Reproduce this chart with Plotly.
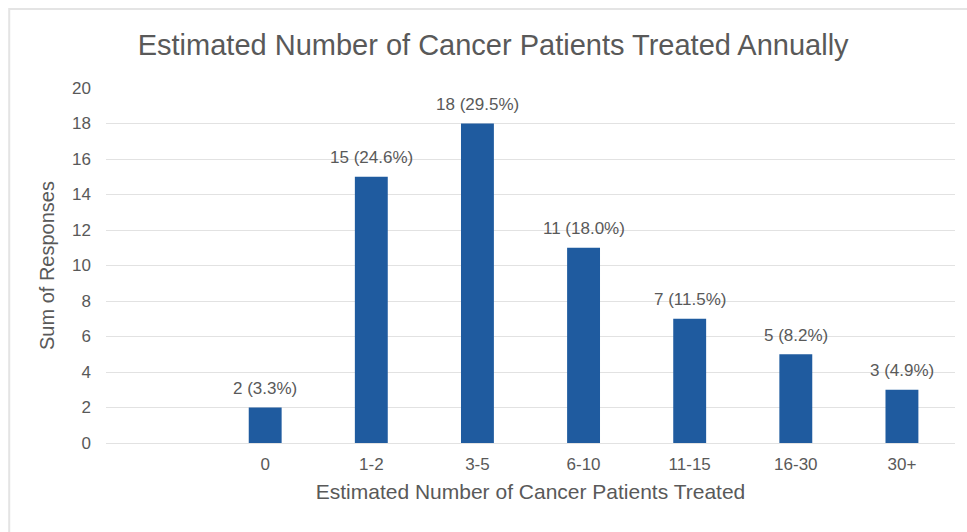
import plotly.graph_objects as go

# Survey responses: estimated number of cancer patients treated per year
categories = ["0", "1-2", "3-5", "6-10", "11-15", "16-30", "30+"]
responses = [2, 15, 18, 11, 7, 5, 3]
y_ticks = [0, 2, 4, 6, 8, 10, 12, 14, 16, 18, 20]

total = sum(responses)
labels = [f"{v} ({v / total * 100:.1f}%)" for v in responses]

GRAY_TEXT = "#595959"
FONT = "Liberation Sans, Arial, sans-serif"

fig = go.Figure(
    go.Bar(
        x=categories,
        y=responses,
        marker=dict(color="#1f5b9f", line=dict(width=0)),
        hoverinfo="skip",
    )
)

# Count and share labels sitting above each bar
for cat, val, lab in zip(categories, responses, labels):
    fig.add_annotation(
        x=cat,
        y=val,
        text=lab,
        showarrow=False,
        yanchor="middle",
        yshift=19,
        font=dict(family=FONT, size=17, color=GRAY_TEXT),
    )

fig.update_layout(
    width=967,
    height=532,
    margin=dict(l=106, r=12, t=88, b=89),
    paper_bgcolor="white",
    plot_bgcolor="white",
    bargap=0.69,
    showlegend=False,
    title=dict(
        text="Estimated Number of Cancer Patients Treated Annually",
        x=0.51,
        xanchor="center",
        y=1 - 45 / 532,
        yanchor="middle",
        font=dict(family=FONT, size=29, color=GRAY_TEXT),
    ),
    xaxis=dict(
        type="category",
        range=[-1.5, 6.5],
        showgrid=False,
        zeroline=False,
        showline=False,
        ticks="",
        tickfont=dict(family=FONT, size=17, color=GRAY_TEXT),
        ticklabelstandoff=9,
        title=dict(
            text="Estimated Number of Cancer Patients Treated",
            font=dict(family=FONT, size=21, color=GRAY_TEXT),
            standoff=11,
        ),
    ),
    yaxis=dict(
        range=[0, 20],
        tickvals=y_ticks,
        showgrid=True,
        gridcolor="#e2e2e2",
        gridwidth=1,
        zeroline=True,
        zerolinecolor="#e2e2e2",
        zerolinewidth=1,
        showline=False,
        ticks="",
        tickfont=dict(family=FONT, size=17, color=GRAY_TEXT),
        ticklabelstandoff=14,
        title=dict(
            text="Sum of Responses",
            font=dict(family=FONT, size=20, color=GRAY_TEXT),
            standoff=12,
        ),
    ),
)

# Light frame around the chart area (left and top edges visible)
fig.add_shape(
    type="rect",
    xref="paper",
    yref="paper",
    x0=-0.114,
    x1=1.5,
    y0=-1.5,
    y1=1.2225,
    line=dict(color="#e4e4e4", width=2),
    fillcolor="rgba(0,0,0,0)",
    layer="below",
)

fig.write_html("out.html")
